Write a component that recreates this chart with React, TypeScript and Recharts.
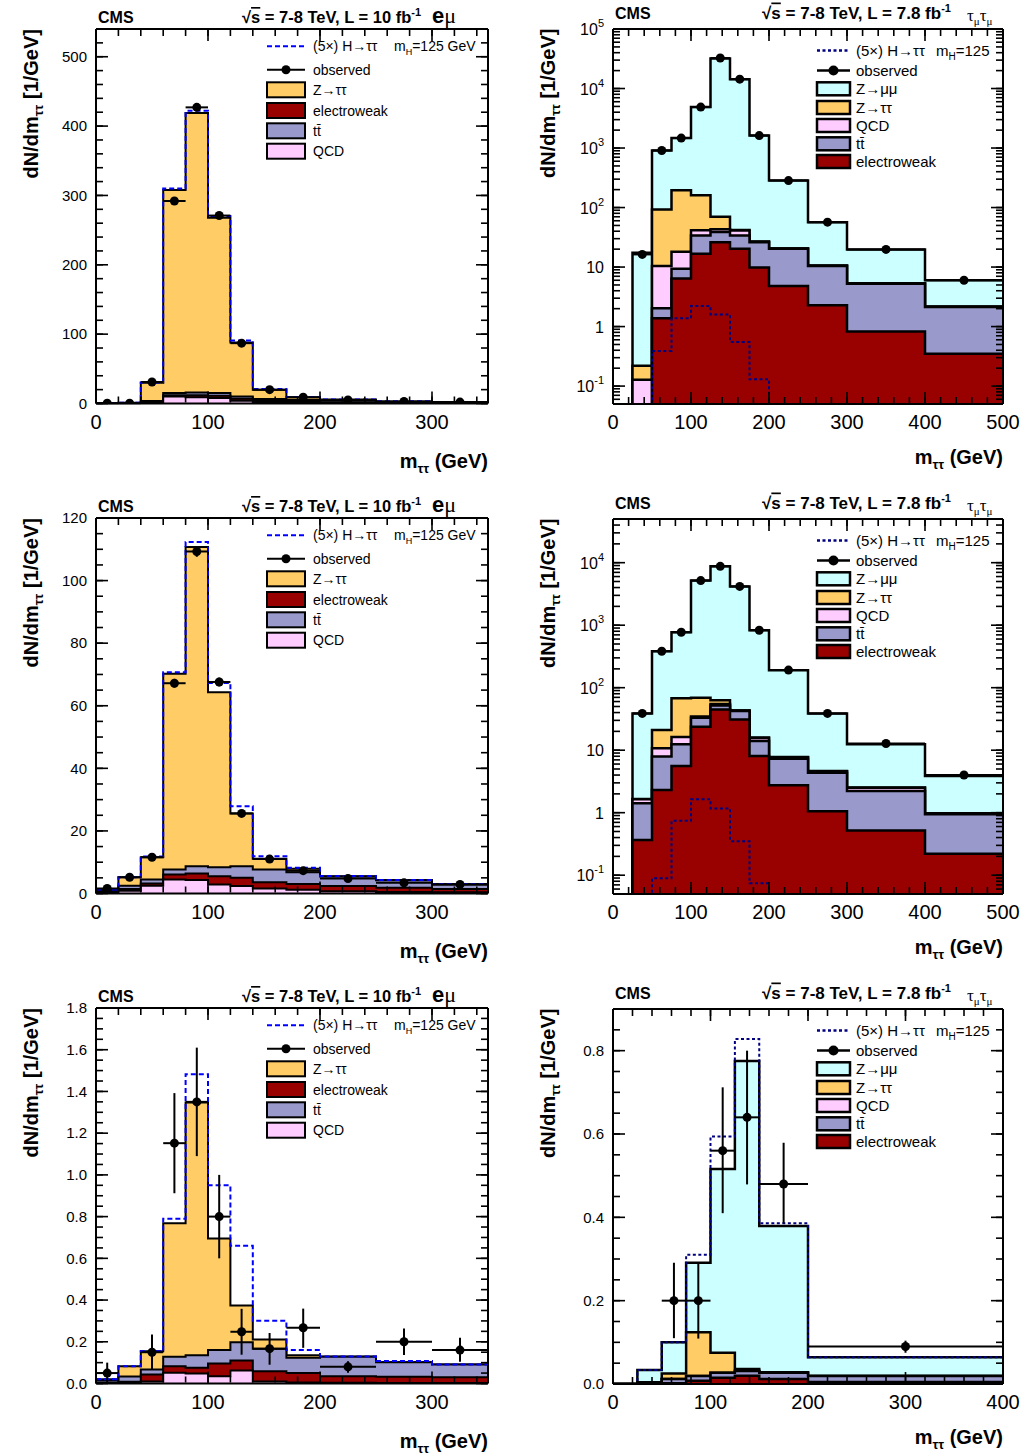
import React from "react";
import { ComposedChart, Area, Line, Scatter, XAxis, YAxis, ErrorBar } from "recharts";

const FONT = "'Liberation Sans', Arial, Helvetica, sans-serif";
const LOG_FLOOR = 1e-4;

const C_ZTT = "#FFCC66";
const C_EWK = "#990000";
const C_TT = "#9999CC";
const C_QCD = "#FFCCFF";
const C_ZMM = "#CCFFFF";

// ---------- bin edges (GeV)
const EDGES_EMU = [0, 20, 40, 60, 80, 100, 120, 140, 170, 200, 250, 300, 350];
const EDGES_MUMU = [0, 25, 50, 75, 100, 125, 150, 175, 200, 250, 300, 400, 500];
const EDGES_MUMU_B = [0, 25, 50, 75, 100, 125, 150, 200, 400];

// ---------- Panel A: e mu (top-left)
const A_QCD = [0, 0.2, 2, 10, 9, 8, 4, 1.5, 0.5, 0.3, 0.2, 0.1];
const A_EWK = [0, 0.1, 0.5, 2, 3, 3, 3, 2, 1.5, 1, 0.6, 0.4];
const A_TT = [0, 0.2, 1, 3, 4, 4, 3, 3, 3, 2.5, 1.5, 1];
const A_ZTT = [0.3, 0.5, 26.5, 293, 403, 253, 78, 13.5, 4, 1.9, 0.7, 0.5];
const A_SIG = [0, 0, 0.3, 2, 3, 2.5, 3, 1, 0.5, 0.2, 0.1, 0.1];
const A_OBS = [0.4, 0.5, 31, 292, 427, 271, 87, 20, 9, 5, 3, 2];
const A_ERR = [0.2, 0.2, 0.8, 2.5, 3, 2.5, 1.4, 0.6, 0.4, 0.2, 0.15, 0.12];

// ---------- Panel C: e mu (middle-left)
const C_QCDV = [0.3, 0.9, 2.5, 4.5, 4.3, 2.9, 2.4, 1.6, 1.2, 0.7, 0.5, 0.4];
const C_EWKV = [0.2, 0.5, 0.7, 1.6, 2.1, 2.6, 2.6, 2.0, 1.8, 1.7, 1.3, 1.0];
const C_TTV = [0.3, 1.1, 1.3, 1.6, 2.3, 2.9, 3.7, 4.1, 3.8, 3.0, 2.4, 1.5];
const C_ZTTV = [0.5, 2.7, 7.1, 62.5, 102, 55.9, 16.9, 3.4, 1.1, 0.1, 0.1, 0.1];
const C_SIG = [0, 0, 0.2, 0.5, 1.6, 3.0, 2.3, 0.8, 0.3, 0.1, 0, 0];
const C_OBS = [1.6, 5.2, 11.6, 67.2, 109.3, 67.6, 25.6, 11.0, 7.3, 4.8, 3.4, 2.9];
const C_ERR = [0.4, 0.6, 0.7, 1.4, 1.7, 1.4, 0.9, 0.6, 0.5, 0.3, 0.25, 0.25];

// ---------- Panel E: e mu (bottom-left)
const E_QCD = [0, 0.003, 0.01, 0.051, 0.048, 0.035, 0.062, 0.01, 0.005, 0.003, 0.002, 0.002];
const E_EWK = [0.005, 0.005, 0.033, 0.032, 0.027, 0.061, 0.048, 0.049, 0.045, 0.032, 0.03, 0.028];
const E_TT = [0.01, 0.025, 0.024, 0.045, 0.061, 0.064, 0.088, 0.108, 0.073, 0.093, 0.07, 0.061];
const E_ZTT = [0.005, 0.05, 0.088, 0.64, 1.211, 0.535, 0.176, 0.044, 0.013, 0.002, 0.001, 0];
const E_SIG = [0, 0, 0, 0.022, 0.136, 0.255, 0.286, 0.09, 0.024, 0, 0.005, 0];
const E_OBS: (number | null)[] = [0.05, null, 0.15, 1.152, 1.35, 0.8, 0.248, 0.167, 0.267, 0.08, 0.2, 0.16];
const E_ERR_LO = [0.05, 0, 0.083, 0.24, 0.26, 0.2, 0.11, 0.077, 0.096, 0.029, 0.063, 0.056];
const E_ERR_HI = [0.05, 0, 0.085, 0.24, 0.26, 0.2, 0.11, 0.075, 0.092, 0.027, 0.064, 0.059];

// ---------- Panel B: tau_mu tau_mu (top-right, log)
const B_EWK = [0, 0, 1.38, 6.4, 16.7, 26.2, 20.3, 9.8, 4.8, 2.29, 0.83, 0.35];
const B_TT = [0, 0, 0.65, 3.0, 17.2, 12.8, 13.6, 16.4, 15.5, 8.1, 4.42, 1.78];
const B_QCD = [0, 0.128, 8.37, 8.7, 7.8, 4.0, 7.1, 0.3, 0.2, 0.1, 0.05, 0.02];
const B_ZTT = [0, 0.091, 82.2, 177, 119, 27, 1, 0.5, 0.1, 0.1, 0.05, 0.02];
const B_ZMM = [0, 17.2, 819, 1275, 4709, 31930, 14308, 1593, 263, 46.2, 14.45, 3.86];
const B_SIG = [0, 0, 0.39, 1.38, 2.22, 1.6, 0.55, 0.13, 0, 0, 0, 0];
const B_OBS: (number | null)[] = [null, 16.3, 910, 1470, 4870, 32500, 14350, 1620, 284, 56.8, 19.8, 6.0];

// ---------- Panel D: tau_mu tau_mu (middle-right, log)
const D_EWK = [0, 0.367, 2.31, 5.6, 23.7, 44.9, 31, 8.05, 2.75, 1.05, 0.52, 0.22];
const D_TT = [0, 1.043, 5.59, 6.8, 9.3, 7.1, 11.2, 5.95, 4.55, 3.32, 1.71, 0.72];
const D_QCD = [0, 0.23, 2.8, 3.8, 1.5, 3.0, 0.8, 1.7, 0.4, 0.23, 0.27, 0.03];
const D_ZTT = [0, 0.02, 10.3, 51.8, 34.5, 8.0, 0.3, 0.3, 0.1, 0.05, 0.02, 0.01];
const D_ZMM = [0, 37.1, 362, 703, 5101, 8667, 4127, 814, 183, 34.15, 9.88, 2.89];
const D_SIG = [0, 0, 0.089, 0.74, 1.64, 1.17, 0.35, 0.074, 0, 0, 0, 0];
const D_OBS: (number | null)[] = [null, 38.8, 383, 771, 5170, 8730, 4170, 830, 191, 38.8, 12.8, 4.0];

// ---------- Panel F: tau_mu tau_mu (bottom-right, linear)
const F_EWK = [0, 0, 0.002, 0.008, 0.015, 0.02, 0.012, 0.005];
const F_TT = [0, 0.002, 0.01, 0.011, 0.012, 0.011, 0.015, 0.014];
const F_QCD = [0, 0, 0, 0, 0, 0, 0, 0];
const F_ZTT = [0, 0.002, 0.013, 0.105, 0.048, 0.005, 0.001, 0];
const F_ZMM = [0, 0.0296, 0.075, 0.167, 0.441, 0.739, 0.351, 0.045];
const F_SIG = [0, 0, 0, 0.019, 0.078, 0.053, 0.007, 0];
const F_OBS: (number | null)[] = [null, null, 0.2, 0.2, 0.56, 0.64, 0.48, 0.09];
const F_ERR_LO = [0, 0, 0.09, 0.091, 0.15, 0.161, 0.095, 0.015];
const F_ERR_HI = [0, 0, 0.091, 0.091, 0.152, 0.16, 0.099, 0.014];

// ---------- tick helpers
function range(a: number, b: number, s: number) {
  const o: number[] = [];
  for (let i = 0; a + i * s <= b + 1e-9; i++) o.push(+(a + i * s).toFixed(6));
  return o;
}
function logMajor(lo: number, hi: number) {
  const o: number[] = [];
  for (let e = -3; e <= 6; e++) {
    const v = Math.pow(10, e);
    if (v >= lo * 0.999 && v <= hi * 1.001) o.push(v);
  }
  return o;
}
function logMinor(lo: number, hi: number) {
  const o: number[] = [];
  for (let e = -3; e <= 6; e++)
    for (let m = 1; m <= 9; m++) {
      const v = m * Math.pow(10, e);
      if (v >= lo * 0.999 && v <= hi * 1.001) o.push(v);
    }
  return o;
}

type Layer = { values: number[]; fill: string };
type Cfg = {
  kind: "emu" | "mumu";
  edges: number[];
  layers: Layer[];
  sig: number[];
  sigStacked: boolean;
  obs: (number | null)[];
  errLo?: number[];
  errHi?: number[];
  log: boolean;
  xDomain: [number, number];
  yDomain: [number, number];
  xMajor: number[];
  xMinor: number[];
  yMajor: number[];
  yMinor: number[];
  yFmt: (v: number) => string;
  plot: [number, number, number, number];
  chartX: number;
  chartW: number;
  lw: number;
};

const PANELS: Cfg[] = [
  {
    kind: "emu", edges: EDGES_EMU,
    layers: [{ values: A_QCD, fill: C_QCD }, { values: A_EWK, fill: C_EWK }, { values: A_TT, fill: C_TT }, { values: A_ZTT, fill: C_ZTT }],
    sig: A_SIG, sigStacked: true, obs: A_OBS, errLo: A_ERR, errHi: A_ERR, log: false,
    xDomain: [0, 350], yDomain: [0, 540], xMajor: [0, 100, 200, 300], xMinor: range(0, 340, 20),
    yMajor: range(0, 500, 100), yMinor: range(0, 540, 20), yFmt: (v) => String(v),
    plot: [96, 29, 488, 403.5], chartX: 0, chartW: 505, lw: 2,
  },
  {
    kind: "mumu", edges: EDGES_MUMU,
    layers: [{ values: B_EWK, fill: C_EWK }, { values: B_TT, fill: C_TT }, { values: B_QCD, fill: C_QCD }, { values: B_ZTT, fill: C_ZTT }, { values: B_ZMM, fill: C_ZMM }],
    sig: B_SIG, sigStacked: false, obs: B_OBS, log: true,
    xDomain: [0, 500], yDomain: [0.05, 1e5], xMajor: range(0, 500, 100), xMinor: range(0, 500, 20),
    yMajor: logMajor(0.05, 1e5), yMinor: logMinor(0.05, 1e5), yFmt: (v) => String(v),
    plot: [613, 28.5, 1003, 403.5], chartX: 512, chartW: 513, lw: 2.5,
  },
  {
    kind: "emu", edges: EDGES_EMU,
    layers: [{ values: C_QCDV, fill: C_QCD }, { values: C_EWKV, fill: C_EWK }, { values: C_TTV, fill: C_TT }, { values: C_ZTTV, fill: C_ZTT }],
    sig: C_SIG, sigStacked: true, obs: C_OBS, errLo: C_ERR, errHi: C_ERR, log: false,
    xDomain: [0, 350], yDomain: [0, 120], xMajor: [0, 100, 200, 300], xMinor: range(0, 340, 20),
    yMajor: range(0, 120, 20), yMinor: range(0, 120, 5), yFmt: (v) => String(v),
    plot: [96, 518, 488, 893.5], chartX: 0, chartW: 505, lw: 2,
  },
  {
    kind: "mumu", edges: EDGES_MUMU,
    layers: [{ values: D_EWK, fill: C_EWK }, { values: D_TT, fill: C_TT }, { values: D_QCD, fill: C_QCD }, { values: D_ZTT, fill: C_ZTT }, { values: D_ZMM, fill: C_ZMM }],
    sig: D_SIG, sigStacked: false, obs: D_OBS, log: true,
    xDomain: [0, 500], yDomain: [0.05, 5e4], xMajor: range(0, 500, 100), xMinor: range(0, 500, 20),
    yMajor: logMajor(0.05, 5e4), yMinor: logMinor(0.05, 5e4), yFmt: (v) => String(v),
    plot: [613, 518.5, 1003, 893.5], chartX: 512, chartW: 513, lw: 2.5,
  },
  {
    kind: "emu", edges: EDGES_EMU,
    layers: [{ values: E_QCD, fill: C_QCD }, { values: E_EWK, fill: C_EWK }, { values: E_TT, fill: C_TT }, { values: E_ZTT, fill: C_ZTT }],
    sig: E_SIG, sigStacked: true, obs: E_OBS, errLo: E_ERR_LO, errHi: E_ERR_HI, log: false,
    xDomain: [0, 350], yDomain: [0, 1.8], xMajor: [0, 100, 200, 300], xMinor: range(0, 340, 20),
    yMajor: range(0, 1.8, 0.2), yMinor: range(0, 1.8, 0.05), yFmt: (v) => v.toFixed(1),
    plot: [96, 1008, 488, 1383.5], chartX: 0, chartW: 505, lw: 2,
  },
  {
    kind: "mumu", edges: EDGES_MUMU_B,
    layers: [{ values: F_EWK, fill: C_EWK }, { values: F_TT, fill: C_TT }, { values: F_QCD, fill: C_QCD }, { values: F_ZTT, fill: C_ZTT }, { values: F_ZMM, fill: C_ZMM }],
    sig: F_SIG, sigStacked: true, obs: F_OBS, errLo: F_ERR_LO, errHi: F_ERR_HI, log: false,
    xDomain: [0, 400], yDomain: [0, 0.9], xMajor: range(0, 400, 100), xMinor: range(0, 400, 20),
    yMajor: range(0, 0.8, 0.2), yMinor: range(0, 0.9, 0.05), yFmt: (v) => v.toFixed(1),
    plot: [613, 1008.5, 1003, 1383.5], chartX: 512, chartW: 513, lw: 2.5,
  },
];

function histRows(c: Cfg) {
  const n = c.edges.length - 1;
  const fl = (v: number) => (c.log ? Math.max(v, LOG_FLOOR) : v);
  return c.edges.map((x, i) => {
    const b = Math.min(i, n - 1);
    const row: Record<string, number> = { x };
    let cum = 0;
    c.layers.forEach((L, k) => {
      cum += L.values[b];
      row["c" + k] = fl(cum);
    });
    row.sig = fl(c.sigStacked ? cum + c.sig[b] : c.sig[b]);
    return row;
  });
}

function obsRows(c: Cfg) {
  const out: any[] = [];
  c.obs.forEach((v, i) => {
    if (v == null) return;
    const lo = c.edges[i];
    const hi = c.edges[i + 1];
    out.push({
      x: (lo + hi) / 2,
      y: v,
      ex: (hi - lo) / 2,
      ey: [c.errLo ? c.errLo[i] : 0, c.errHi ? c.errHi[i] : 0],
    });
  });
  return out;
}

const LogTick = (props: any) => {
  const { x, y, payload } = props;
  const v = payload.value as number;
  const e = Math.round(Math.log10(v));
  const common = { x, y, textAnchor: "end" as const, fontFamily: FONT, fill: "#000", fontSize: 16, dy: 6 };
  if (e === 0) return <text {...common}>1</text>;
  if (e === 1) return <text {...common}>10</text>;
  return (
    <text {...common}>
      10<tspan dy={-8} fontSize={11}>{e}</tspan>
    </text>
  );
};

const NoLabel = () => <g />;

const dotShape = (p: any) => <circle cx={p.cx} cy={p.cy} r={4.5} fill="#000" />;

function Panel({ c }: { c: Cfg }) {
  const rows = histRows(c);
  const obs = obsRows(c);
  const [px0, py0, px1, py1] = c.plot;
  const top = py0 - 29;
  const height = py1 + 68 - top;
  // label axes (non-mirror) take 1px each
  const margin = { top: py0 - top, bottom: top + height - py1 - 1, left: px0 - c.chartX - 1, right: c.chartX + c.chartW - px1 };
  const yScale = c.log ? "log" : "linear";
  const tl = { stroke: "#000", strokeWidth: 1.6 };
  const frame = { stroke: "#000", strokeWidth: 2 };
  const cx: any = { type: "number", dataKey: "x", domain: c.xDomain, allowDataOverflow: true, height: 1, interval: 0, scale: "linear" };
  const cy: any = { type: "number", domain: c.yDomain, allowDataOverflow: true, width: 1, interval: 0, scale: yScale };
  const n = c.layers.length;
  const areas = [];
  for (let k = n - 1; k >= 0; k--) {
    areas.push(
      <Area
        key={"a" + k}
        xAxisId="x"
        yAxisId="y"
        type="stepAfter"
        dataKey={"c" + k}
        fill={c.layers[k].fill}
        fillOpacity={1}
        stroke="#000"
        strokeWidth={c.lw}
        dot={false}
        activeDot={false}
        isAnimationActive={false}
      />
    );
  }
  const sigColor = c.kind === "emu" ? "#0000FF" : "#000080";
  const sigDash = c.kind === "emu" ? "5 3" : "3 2.5";
  const yTick = c.log ? LogTick : { fontSize: 15, fill: "#000", fontFamily: FONT };
  return (
    <div style={{ position: "absolute", left: c.chartX, top, width: c.chartW, height }}>
      <ComposedChart width={c.chartW} height={height} data={rows} margin={margin}>
        {areas}
        <Line
          xAxisId="x"
          yAxisId="y"
          type="stepAfter"
          dataKey="sig"
          stroke={sigColor}
          strokeWidth={2}
          strokeDasharray={sigDash}
          dot={false}
          activeDot={false}
          isAnimationActive={false}
        />
        <Scatter xAxisId="x" yAxisId="y" data={obs} dataKey="y" shape={dotShape} isAnimationActive={false}>
          <ErrorBar dataKey="ex" direction="x" width={0} stroke="#000" strokeWidth={2} />
          {c.errLo ? <ErrorBar dataKey="ey" direction="y" width={0} stroke="#000" strokeWidth={2} /> : null}
        </Scatter>
        <XAxis xAxisId="x" {...cx} ticks={c.xMajor} tickLine={false} tickSize={0} tickMargin={11} axisLine={frame} tick={{ fontSize: 20, fill: "#000", fontFamily: FONT }} />
        <XAxis xAxisId="xM" {...cx} mirror ticks={c.xMajor} tickSize={12} tickLine={tl} tick={NoLabel} axisLine={false} />
        <XAxis xAxisId="xm" {...cx} mirror ticks={c.xMinor} tickSize={6} tickLine={tl} tick={NoLabel} axisLine={false} />
        <XAxis xAxisId="tM" {...cx} orientation="top" mirror ticks={c.xMajor} tickSize={12} tickLine={tl} tick={NoLabel} axisLine={frame} />
        <XAxis xAxisId="tm" {...cx} orientation="top" mirror ticks={c.xMinor} tickSize={6} tickLine={tl} tick={NoLabel} axisLine={false} />
        <YAxis yAxisId="y" {...cy} ticks={c.yMajor} tickLine={false} tickSize={0} tickMargin={9} axisLine={frame} tick={yTick} tickFormatter={c.yFmt} />
        <YAxis yAxisId="yM" {...cy} mirror ticks={c.yMajor} tickSize={12} tickLine={tl} tick={NoLabel} axisLine={false} />
        <YAxis yAxisId="ym" {...cy} mirror ticks={c.yMinor} tickSize={6} tickLine={tl} tick={NoLabel} axisLine={false} />
        <YAxis yAxisId="rM" {...cy} orientation="right" mirror ticks={c.yMajor} tickSize={12} tickLine={tl} tick={NoLabel} axisLine={frame} />
        <YAxis yAxisId="rm" {...cy} orientation="right" mirror ticks={c.yMinor} tickSize={6} tickLine={tl} tick={NoLabel} axisLine={false} />
      </ComposedChart>
    </div>
  );
}

// ---------- overlay texts (headers, titles, legends)
function HeaderEmu({ top }: { top: number }) {
  const y = top - 6;
  return (
    <g fontFamily={FONT} fill="#000">
      <text x={98} y={y} fontSize={16} fontWeight="bold">CMS</text>
      <text x={242} y={y} fontSize={16.5} fontWeight="bold">
        √<tspan style={{ textDecoration: "overline" }}>s</tspan> = 7-8 TeV, L = 10 fb<tspan dy={-7} fontSize={11}>-1</tspan>
      </text>
      <text x={432} y={y} fontSize={22} fontWeight="bold">
        e<tspan fontWeight="normal" fontFamily="'Liberation Serif', serif">μ</tspan>
      </text>
    </g>
  );
}
function HeaderMumu({ top }: { top: number }) {
  const y = top - 10;
  return (
    <g fontFamily={FONT} fill="#000">
      <text x={615} y={y} fontSize={16} fontWeight="bold">CMS</text>
      <text x={762} y={y} fontSize={17} fontWeight="bold">
        √<tspan style={{ textDecoration: "overline" }}>s</tspan> = 7-8 TeV, L = 7.8 fb<tspan dy={-7} fontSize={11}>-1</tspan>
      </text>
      <text x={967} y={y + 2} fontSize={17} fontFamily="'Liberation Serif', serif">
        τ<tspan dy={4} fontSize={11}>μ</tspan>
        <tspan dy={-4}>τ</tspan>
        <tspan dy={4} fontSize={11}>μ</tspan>
      </text>
    </g>
  );
}
function Titles({ c }: { c: Cfg }) {
  const [px0, py0, px1, py1] = c.plot;
  const emu = c.kind === "emu";
  const xb = py1 + (emu ? 64 : 60);
  const yb = emu ? 38 : 555;
  return (
    <g fontFamily={FONT} fontWeight="bold" fontSize={20} fill="#000">
      <text x={px1} y={xb} textAnchor="end">
        m<tspan dy={5} fontSize={13}>ττ</tspan>
        <tspan dy={-5}> (GeV)</tspan>
      </text>
      <text transform={`translate(${yb},${py0}) rotate(-90)`} textAnchor="end">
        dN/dm<tspan dy={5} fontSize={13}>ττ</tspan>
        <tspan dy={-5}> [1/GeV]</tspan>
      </text>
    </g>
  );
}
function LegendEmu({ top }: { top: number }) {
  const x0 = 267, x1 = 305, tx = 313;
  const ys = [17.3, 40.7, 60.8, 81.5, 101.8, 122.2].map((d) => top + d);
  const boxes: [string, string][] = [[C_ZTT, "Z→ττ"], [C_EWK, "electroweak"], [C_TT, "tt\u0304"], [C_QCD, "QCD"]];
  return (
    <g fontFamily={FONT} fontSize={14} fill="#000">
      <line x1={x0} x2={x1} y1={ys[0]} y2={ys[0]} stroke="#0000FF" strokeWidth={2} strokeDasharray="5 3" />
      <text x={tx} y={ys[0] + 5}>
        (5×) H→ττ<tspan x={394}>m</tspan>
        <tspan dy={4} fontSize={9}>H</tspan>
        <tspan dy={-4}>=125 GeV</tspan>
      </text>
      <line x1={x0} x2={x1} y1={ys[1]} y2={ys[1]} stroke="#000" strokeWidth={2} />
      <circle cx={(x0 + x1) / 2} cy={ys[1]} r={4.5} fill="#000" />
      <text x={tx} y={ys[1] + 5}>observed</text>
      {boxes.map(([f, t], i) => (
        <g key={t}>
          <rect x={x0} y={ys[i + 2] - 7.5} width={x1 - x0} height={15} fill={f} stroke="#000" strokeWidth={2} />
          <text x={tx} y={ys[i + 2] + 5}>{t}</text>
        </g>
      ))}
    </g>
  );
}
function LegendMumu({ top }: { top: number }) {
  const x0 = 817, x1 = 850, tx = 856;
  const ys = [22, 42, 60.3, 79, 97, 115.3, 133].map((d) => top + d);
  const boxes: [string, string][] = [[C_ZMM, "Z→μμ"], [C_ZTT, "Z→ττ"], [C_QCD, "QCD"], [C_TT, "tt\u0304"], [C_EWK, "electroweak"]];
  return (
    <g fontFamily={FONT} fontSize={15} fill="#000">
      <line x1={x0} x2={x1} y1={ys[0]} y2={ys[0]} stroke="#000080" strokeWidth={2.5} strokeDasharray="3 2.5" />
      <text x={tx} y={ys[0] + 5}>
        (5×) H→ττ<tspan x={936}>m</tspan>
        <tspan dy={4} fontSize={10}>H</tspan>
        <tspan dy={-4}>=125</tspan>
      </text>
      <line x1={x0} x2={x1} y1={ys[1]} y2={ys[1]} stroke="#000" strokeWidth={2.5} />
      <circle cx={(x0 + x1) / 2} cy={ys[1]} r={5} fill="#000" />
      <text x={tx} y={ys[1] + 5}>observed</text>
      {boxes.map(([f, t], i) => (
        <g key={t}>
          <rect x={x0} y={ys[i + 2] - 6.5} width={x1 - x0} height={13} fill={f} stroke="#000" strokeWidth={2.5} />
          <text x={tx} y={ys[i + 2] + 5}>{t}</text>
        </g>
      ))}
    </g>
  );
}

export default function App() {
  return (
    <div style={{ position: "absolute", left: 0, top: 0, width: 1025, height: 1454, overflow: "hidden", background: "#fff" }}>
      {PANELS.map((c, i) => (
        <Panel key={i} c={c} />
      ))}
      <svg width={1025} height={1454} style={{ position: "absolute", left: 0, top: 0, pointerEvents: "none" }}>
        {PANELS.map((c, i) => (
          <g key={i}>
            {c.kind === "emu" ? <HeaderEmu top={c.plot[1]} /> : <HeaderMumu top={c.plot[1]} />}
            <Titles c={c} />
            {c.kind === "emu" ? <LegendEmu top={c.plot[1]} /> : <LegendMumu top={c.plot[1]} />}
          </g>
        ))}
      </svg>
    </div>
  );
}
